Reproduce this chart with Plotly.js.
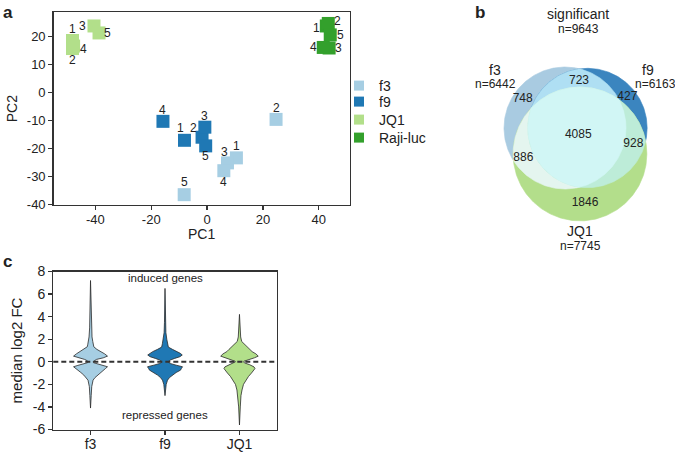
<!DOCTYPE html>
<html><head><meta charset="utf-8">
<script src="https://cdn.plot.ly/plotly-3.0.1.min.js"></script>
<style>html,body{margin:0;padding:0;background:#fff}#chart{width:675px;height:455px}</style>
</head><body><div id="chart"></div>
<script>
// ---------- DATA ----------
// Panel a: PCA scores (samples 1..5 per group)
const sampleIds = ['1', '2', '3', '4', '5'];
const groupNames = ['f3', 'f9', 'JQ1', 'Raji-luc'];
const pc1_f3  = [10.5, 24.7, 7.3, 6.0, -8.2];
const pc2_f3  = [-23.4, -9.6, -25.2, -28.0, -36.6];
const pc1_f9  = [-8.1, -1.8, -0.8, -15.8, -0.5];
const pc2_f9  = [-17.1, -16.0, -12.4, -10.3, -19.1];
const pc1_jq1 = [-48.2, -48.2, -40.5, -47.8, -38.7];
const pc2_jq1 = [18.7, 15.8, 23.9, 16.7, 21.4];
const pc1_raji = [42.7, 43.4, 43.7, 41.6, 44.1];
const pc2_raji = [23.9, 24.8, 16.0, 16.2, 20.7];
const pcaXTicks = [-40, -20, 0, 20, 40];
const pcaXTickText = ['-40', '-20', '0', '20', '40'];
const pcaYTicks = [-40, -30, -20, -10, 0, 10, 20];
const pcaYTickText = ['-40', '-30', '-20', '-10', '0', '10', '20'];

// Panel b: Venn counts
const vennTotal = 9643;
const vennSets = ['f3', 'f9', 'JQ1'];
const vennSetSizes = [6442, 6163, 7745];
const vennRegionNames = ['f3', 'f3&f9', 'f9', 'f3&JQ1', 'all', 'f9&JQ1', 'JQ1'];
const vennRegionCounts = [748, 723, 427, 886, 4085, 928, 1846];

// Panel c: violin outlines (log2 FC value, half-width in category units)
const violinCats = ['f3', 'f9', 'JQ1'];
const violinY_f3 = [7.2, 6.0, 4.0, 3.0, 2.2, 1.8, 1.5, 1.33, 1.1, 0.89, 0.7, 0.5, 0.35, 0.21, 0.08, 0, -0.08, -0.2, -0.32, -0.44, -0.6, -0.74, -0.95, -1.18, -1.4, -1.63, -2.2, -3.0, -4.1];
const violinW_f3 = [0, 0.005, 0.008, 0.012, 0.02, 0.03, 0.038, 0.044, 0.085, 0.145, 0.19, 0.228, 0.17, 0.08, 0.04, 0.034, 0.04, 0.1, 0.17, 0.228, 0.2, 0.174, 0.13, 0.09, 0.06, 0.034, 0.016, 0.009, 0];
const violinY_f9 = [6.5, 5.0, 3.5, 2.6, 2.0, 1.6, 1.3, 1.1, 0.9, 0.75, 0.6, 0.45, 0.3, 0.15, 0, -0.15, -0.3, -0.44, -0.6, -0.74, -0.95, -1.18, -1.4, -1.63, -2.0, -2.5, -3.0];
const violinW_f9 = [0, 0.004, 0.007, 0.012, 0.024, 0.035, 0.045, 0.1, 0.165, 0.205, 0.232, 0.2, 0.13, 0.07, 0.04, 0.07, 0.15, 0.235, 0.22, 0.208, 0.15, 0.1, 0.06, 0.034, 0.016, 0.008, 0];
const violinY_jq1 = [4.2, 3.0, 2.2, 1.8, 1.33, 1.1, 0.9, 0.7, 0.5, 0.35, 0.2, 0.05, 0, -0.1, -0.25, -0.45, -0.6, -0.8, -1.0, -1.3, -1.6, -2.0, -2.5, -3.0, -4.0, -5.6];
const violinW_jq1 = [0, 0.008, 0.016, 0.03, 0.1, 0.14, 0.17, 0.221, 0.252, 0.2, 0.12, 0.06, 0.054, 0.067, 0.134, 0.195, 0.208, 0.188, 0.161, 0.121, 0.087, 0.054, 0.034, 0.02, 0.011, 0];
const violinYTicks = [-6, -4, -2, 0, 2, 4, 6, 8];
const violinYTickText = ['-6', '-4', '-2', '0', '2', '4', '6', '8'];

// ---------- STYLE ----------
const FONT = 'Liberation Sans, Arial, Helvetica, sans-serif';
const TXT = '#222';
const AX = '#333';
const groupColors = ['#a6cee3', '#1f78b4', '#b2df8a', '#33a02c'];
// sample label offsets in px [xshift, yshift]
const labelShift = [
  [[0, 11.5], [0, 11], [-2.5, 10.5], [0, -11.5], [0, 12.5]],
  [[-4, 12], [-9, 9], [0, 11.5], [0, 11.5], [0, -10.5]],
  [[0, 11.5], [0, -11.5], [-11, 0], [9.5, -3], [8, 0]],
  [[-9.5, -2], [9, 2.5], [9, 0], [-10, 0], [10, 0]]
];
const pcaX = [pc1_f3, pc1_f9, pc1_jq1, pc1_raji];
const pcaY = [pc2_f3, pc2_f9, pc2_jq1, pc2_raji];
const legendNames = ['legend', 'legend2', 'legend3', 'legend4'];
const legendTopPx = [70, 86, 104, 122];

const traces = [];
const annotations = [];
// Panel a scatter
groupNames.forEach((g, i) => {
  traces.push({
    type: 'scatter', mode: 'markers', x: pcaX[i], y: pcaY[i],
    marker: {symbol: 'square', size: 13, color: groupColors[i], line: {width: 0}},
    xaxis: 'x', yaxis: 'y', showlegend: false, hoverinfo: 'skip', cliponaxis: false, name: g
  });
  sampleIds.forEach((s, k) => {
    annotations.push({text: s, x: pcaX[i][k], y: pcaY[i][k], xref: 'x', yref: 'y', showarrow: false,
      xshift: labelShift[i][k][0], yshift: labelShift[i][k][1], font: {size: 12, color: TXT}});
  });
});
// legend entries, one legend each for exact spacing
groupNames.forEach((g, i) => {
  traces.push({
    type: 'scatter', mode: 'markers', x: [null], y: [null], name: g, legend: legendNames[i],
    marker: {symbol: 'square', size: 10, color: groupColors[i]},
    xaxis: 'x', yaxis: 'y', showlegend: true, hoverinfo: 'skip'
  });
});

// Panel b: Venn (radii proportional to sqrt of set size)
const vennK = 0.76;
const vennCenters = [[565, 128], [587.5, 128], [580, 154]];
const vennRadii = vennSetSizes.map(n => vennK * Math.sqrt(n));
function circlePoly(c, r) {
  const pts = [];
  const N = 360;
  for (let i = 0; i < N; i++) {
    const t = 2 * Math.PI * i / N;
    pts.push([c[0] + r * Math.cos(t), c[1] + r * Math.sin(t)]);
  }
  return pts;
}
function clipPoly(subject, clipper) {
  let output = subject;
  const cross = (ux, uy, vx, vy) => ux * vy - uy * vx;
  for (let i = 0; i < clipper.length; i++) {
    const A = clipper[i], B = clipper[(i + 1) % clipper.length];
    const ex = B[0] - A[0], ey = B[1] - A[1];
    const input = output; output = [];
    if (!input.length) break;
    const inside = p => cross(ex, ey, p[0] - A[0], p[1] - A[1]) >= 0;
    const inter = (P, Q) => {
      const dx = Q[0] - P[0], dy = Q[1] - P[1];
      const t = -cross(ex, ey, P[0] - A[0], P[1] - A[1]) / cross(ex, ey, dx, dy);
      return [P[0] + t * dx, P[1] + t * dy];
    };
    let S = input[input.length - 1];
    for (const E of input) {
      if (inside(E)) { if (!inside(S)) output.push(inter(S, E)); output.push(E); }
      else if (inside(S)) output.push(inter(S, E));
      S = E;
    }
  }
  return output;
}
const cp = vennCenters.map((c, i) => circlePoly(c, vennRadii[i]));
const regionsToDraw = [
  {poly: cp[0], color: '#a9cbe1'},
  {poly: cp[1], color: '#3b85bf'},
  {poly: cp[2], color: '#b3de8b'},
  {poly: clipPoly(cp[0], cp[1]), color: '#afdff3'},
  {poly: clipPoly(cp[0], cp[2]), color: '#e4f5ef'},
  {poly: clipPoly(cp[1], cp[2]), color: '#bdecd8'},
  {poly: clipPoly(clipPoly(cp[0], cp[1]), cp[2]), color: '#d1f6f5'}
];
regionsToDraw.forEach(r => {
  const xs = r.poly.map(p => p[0]); xs.push(xs[0]);
  const ys = r.poly.map(p => p[1]); ys.push(ys[0]);
  traces.push({type: 'scatter', mode: 'lines', x: xs, y: ys, fill: 'toself', fillcolor: r.color,
    line: {width: 0.6, color: r.color}, xaxis: 'x3', yaxis: 'y3', showlegend: false, hoverinfo: 'skip'});
});
const vennLabelPos = [[522.7, 99.3], [579, 81], [627.3, 96.7], [523.3, 157.7], [578.3, 135], [633.3, 144], [585, 203.3]];
traces.push({type: 'scatter', mode: 'text', x: vennLabelPos.map(p => p[0]), y: vennLabelPos.map(p => p[1]),
  text: vennRegionCounts.map(String), textfont: {family: FONT, size: 12, color: TXT},
  xaxis: 'x3', yaxis: 'y3', showlegend: false, hoverinfo: 'skip'});

// Panel c: violins
const vY = [violinY_f3, violinY_f9, violinY_jq1];
const vW = [violinW_f3, violinW_f9, violinW_jq1];
violinCats.forEach((c, i) => {
  const Y = vY[i], W = vW[i];
  const xs = Y.map((y, k) => i + W[k]).concat(Y.map((y, k) => i - W[k]).reverse());
  const ys = Y.slice().concat(Y.slice().reverse());
  traces.push({type: 'scatter', mode: 'lines', x: xs, y: ys, fill: 'toself', fillcolor: groupColors[i],
    line: {color: '#2a2a2a', width: 0.8}, xaxis: 'x2', yaxis: 'y2', showlegend: false, hoverinfo: 'skip', name: c});
});

const axBase = {showline: true, mirror: true, linecolor: AX, linewidth: 1.3, ticks: 'outside', ticklen: 4,
  tickcolor: AX, tickwidth: 1.2, showgrid: false, zeroline: false, tickfont: {family: FONT, size: 13, color: TXT}};

const legendBase = {xanchor: 'left', yanchor: 'top', bgcolor: 'rgba(0,0,0,0)', font: {family: FONT, size: 14, color: TXT}};

const layout = {
  width: 675, height: 455, margin: {l: 0, r: 0, t: 0, b: 0},
  paper_bgcolor: '#fff', plot_bgcolor: 'rgba(0,0,0,0)',
  font: {family: FONT, color: TXT},
  showlegend: true,
  xaxis: Object.assign({}, axBase, {domain: [53.5 / 675, 349.5 / 675], range: [-55, 51], anchor: 'y',
    tickvals: pcaXTicks, ticktext: pcaXTickText, ticklabelstandoff: -2}),
  yaxis: Object.assign({}, axBase, {domain: [1 - 205 / 455, 1 - 12.3 / 455], range: [-40.3, 28.8], anchor: 'x',
    tickvals: pcaYTicks, ticktext: pcaYTickText,
    title: {text: 'PC2', font: {family: FONT, size: 14, color: TXT}, standoff: 6}}),
  xaxis2: Object.assign({}, axBase, {domain: [53.3 / 675, 276.7 / 675], range: [-0.5, 2.5], anchor: 'y2',
    tickvals: [0, 1, 2], ticktext: violinCats, tickfont: {family: FONT, size: 14, color: TXT}, ticklabelstandoff: -3}),
  yaxis2: Object.assign({}, axBase, {domain: [1 - 429.5 / 455, 1 - 271.5 / 455], range: [-6, 8], anchor: 'x2',
    tickvals: violinYTicks, ticktext: violinYTickText, tickfont: {family: FONT, size: 14, color: TXT},
    title: {text: 'median log2 FC', font: {family: FONT, size: 15, color: TXT}, standoff: 6}}),
  xaxis3: {domain: [440 / 675, 1], range: [440, 675], visible: false, anchor: 'y3', fixedrange: true},
  yaxis3: {domain: [1 - 255 / 455, 1], range: [255, 0], visible: false, anchor: 'x3', fixedrange: true},
  shapes: [
    {type: 'line', xref: 'x2 domain', yref: 'y2', x0: 0, x1: 1, y0: 0, y1: 0, layer: 'above',
      line: {color: AX, width: 2, dash: '5px,3px'}}
  ],
  annotations: annotations.concat([
    {text: 'PC1', xref: 'x domain', yref: 'paper', x: 0.5, y: 1 - 234.5 / 455, yanchor: 'middle', showarrow: false, font: {size: 14, color: TXT}},
    {text: '<b>a</b>', xref: 'paper', yref: 'paper', x: 1 / 675, y: 1 - 1 / 455, xanchor: 'left', yanchor: 'top', showarrow: false, font: {size: 17, color: TXT}},
    {text: '<b>b</b>', xref: 'paper', yref: 'paper', x: 473 / 675, y: 1 - 1 / 455, xanchor: 'left', yanchor: 'top', showarrow: false, font: {size: 17, color: TXT}},
    {text: '<b>c</b>', xref: 'paper', yref: 'paper', x: 1 / 675, y: 1 - 250 / 455, xanchor: 'left', yanchor: 'top', showarrow: false, font: {size: 17, color: TXT}},
    {text: 'significant', xref: 'x3', yref: 'y3', x: 578, y: 14, showarrow: false, font: {size: 14}},
    {text: 'n=' + vennTotal, xref: 'x3', yref: 'y3', x: 578, y: 29, showarrow: false, font: {size: 12}},
    {text: vennSets[0], xref: 'x3', yref: 'y3', x: 495, y: 70, showarrow: false, font: {size: 14}},
    {text: 'n=' + vennSetSizes[0], xref: 'x3', yref: 'y3', x: 495, y: 84, showarrow: false, font: {size: 12}},
    {text: vennSets[1], xref: 'x3', yref: 'y3', x: 647.5, y: 70, showarrow: false, font: {size: 14}},
    {text: 'n=' + vennSetSizes[1], xref: 'x3', yref: 'y3', x: 655.5, y: 84, showarrow: false, font: {size: 12}},
    {text: vennSets[2], xref: 'x3', yref: 'y3', x: 580, y: 231, showarrow: false, font: {size: 14}},
    {text: 'n=' + vennSetSizes[2], xref: 'x3', yref: 'y3', x: 580, y: 246, showarrow: false, font: {size: 12}},
    {text: 'induced genes', xref: 'x2', yref: 'y2', x: 1, y: 7.46, showarrow: false, font: {size: 11.5}},
    {text: 'repressed genes', xref: 'x2', yref: 'y2', x: 1, y: -4.73, showarrow: false, font: {size: 11.5}}
  ])
};
legendNames.forEach((ln, i) => {
  layout[ln] = Object.assign({}, legendBase, {x: 339 / 675, y: 1 - legendTopPx[i] / 455});
});

Plotly.newPlot('chart', traces, layout, {staticPlot: true, displayModeBar: false});
</script>
</body></html>
